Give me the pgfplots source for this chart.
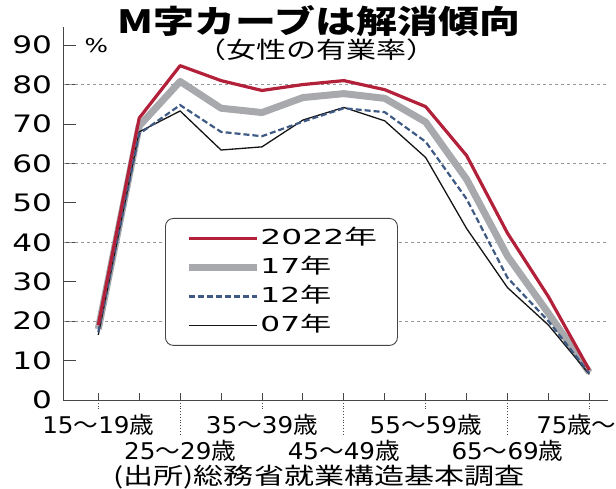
\documentclass[border=0pt]{standalone}
\usepackage{fontspec}
\setmainfont{Noto Sans CJK JP}
\newfontfamily\dv{DejaVu Sans}
\usepackage{graphicx}
\usepackage{pgfplots}
\pgfplotsset{compat=1.18}
\definecolor{c22}{RGB}{178,32,58}
\definecolor{c17}{RGB}{168,169,173}
\definecolor{c12}{RGB}{62,90,132}
\definecolor{c07}{RGB}{20,20,20}
\definecolor{axgray}{RGB}{70,70,70}
\definecolor{gridgray}{RGB}{150,150,150}
\newcommand{\sx}[2]{\resizebox{#1}{\height}{#2}}
\newcommand{\xl}[2]{\sx{112pt}{{\dv #1}～{\dv #2}歳}}
\newcommand{\yl}[1]{\scalebox{1.3}[1]{\dv #1}}

\pgfplotstableread{
x  y22  y17  y12  y07
0  19.0 18.0 17.2 16.5
1  71.5 69.5 67.5 68.0
2  84.8 80.8 74.8 73.3
3  81.0 74.0 68.0 63.4
4  78.5 72.9 66.9 64.2
5  80.0 76.7 70.6 71.0
6  81.0 77.7 74.0 74.2
7  78.7 76.5 73.0 70.8
8  74.4 70.5 65.5 61.5
9  62.0 56.0 51.0 43.5
10 42.3 36.5 31.0 28.5
11 26.2 22.0 20.0 19.0
12 7.6  7.0  6.8  6.5
}\datatable

\pgfplotsset{
  common/.style={
    at={(63.3pt,89pt)}, anchor=south west,
    scale only axis, width=544.7pt, height=373pt,
    xmin=-0.855, xmax=12.456, ymin=0, ymax=94.6,
    axis x line*=bottom, axis y line*=left,
    axis line style={axgray, line width=0.9pt},
    every tick/.style={axgray, line width=0.9pt},
    tick align=inside,
    clip=false,
  }
}

\begin{document}
\begin{tikzpicture}[x=1pt,y=1pt]
\path[use as bounding box] (0,0) rectangle (616,489);

% background axis: y ticks, grid, second row of x labels
\begin{axis}[common,
  major tick length=13pt,
  ytick={0,10,...,90},
  yticklabels={\yl{0},\yl{10},\yl{20},\yl{30},\yl{40},\yl{50},\yl{60},\yl{70},\yl{80},\yl{90}},
  yticklabel style={anchor=east, inner sep=0pt, xshift=-11pt,
    font=\fontsize{24}{24}\selectfont},
  extra y ticks={20,40,60,80},
  extra y tick labels={},
  extra y tick style={grid=major, major tick length=0pt},
  grid style={gridgray, dash pattern=on 3pt off 3pt, line width=0.6pt},
  xtick={2,6,10},
  xticklabels={\xl{25}{29},\xl{45}{49},\xl{65}{69}},
  xtick style={draw=none},
  xticklabel style={anchor=north, inner sep=0pt, yshift=-40pt,
    font=\fontsize{23}{23}\selectfont},
]
\end{axis}

% main axis
\begin{axis}[common,
  major tick length=7pt,
  xtick={0,1,...,12},
  xticklabels={\xl{15}{19},,,,\xl{35}{39},,,,\xl{55}{59},,,,{\sx{80pt}{{\dv 75}歳～}\kern26pt}},
  xticklabel style={anchor=north, inner sep=0pt, yshift=-14pt,
    font=\fontsize{23}{23}\selectfont},
  ytick=\empty,
  legend style={at={(0.1867,0.488)}, anchor=north west,
    draw=axgray, line width=0.9pt, rounded corners=8pt,
    fill=white,
    inner xsep=20pt, inner ysep=11pt,
    row sep=11pt,
    font=\fontsize{20.6}{20.6}\selectfont,
    nodes={inner sep=0pt, text height=15pt, text depth=3pt},
    /tikz/every even column/.append style={column sep=10pt},
  },
  legend cell align=left,
  legend image code/.code={\draw[#1] (0pt,0pt) -- (68pt,0pt);},
]
\addlegendimage{c22, line width=3.2pt}
\addlegendentry{\sx{117pt}{{\dv 2022}年}}
\addlegendimage{c17, line width=7pt}
\addlegendentry{\sx{71pt}{{\dv 17}年}}
\addlegendimage{c12, line width=2.2pt, dash pattern=on 6pt off 3pt}
\addlegendentry{\sx{71pt}{{\dv 12}年}}
\addlegendimage{c07, line width=1.3pt}
\addlegendentry{\sx{71pt}{{\dv 07}年}}

\addplot[forget plot, c17, line width=7pt, line join=round] table[x=x, y=y17] {\datatable};
\addplot[forget plot, c07, line width=1.3pt, line join=round] table[x=x, y=y07] {\datatable};
\addplot[forget plot, c12, line width=2.2pt, dash pattern=on 6pt off 3pt] table[x=x, y=y12] {\datatable};
\addplot[forget plot, c22, line width=3.2pt, line join=round] table[x=x, y=y22] {\datatable};

\foreach \c in {0,4,8,12} {
  \edef\tmp{\noexpand\draw[axgray, line width=0.8pt, dotted] (axis cs:\c,0) -- ++(0pt,-9pt);}\tmp
}
\foreach \c in {2,6,10} {
  \edef\tmp{\noexpand\draw[axgray, line width=0.8pt, dotted] (axis cs:\c,0) -- ++(0pt,-36pt);}\tmp
}
\node[anchor=west, inner sep=0pt, font=\fontsize{19}{19}\selectfont] at (axis cs:-0.855,90) [xshift=21pt] {\scalebox{1.3}[1]{\dv\%}};
\end{axis}

\node[inner sep=0pt, font=\fontsize{32}{32}\selectfont\bfseries] at (319,468) {\sx{402pt}{M字カーブは解消傾向}};
\node[inner sep=0pt, font=\fontsize{23}{23}\selectfont] at (316,439.5) {\sx{240pt}{（女性の有業率）}};
\node[inner sep=0pt, font=\fontsize{23}{23}\selectfont] at (319,11.5) {\sx{411pt}{(出所)総務省就業構造基本調査}};
\end{tikzpicture}
\end{document}
